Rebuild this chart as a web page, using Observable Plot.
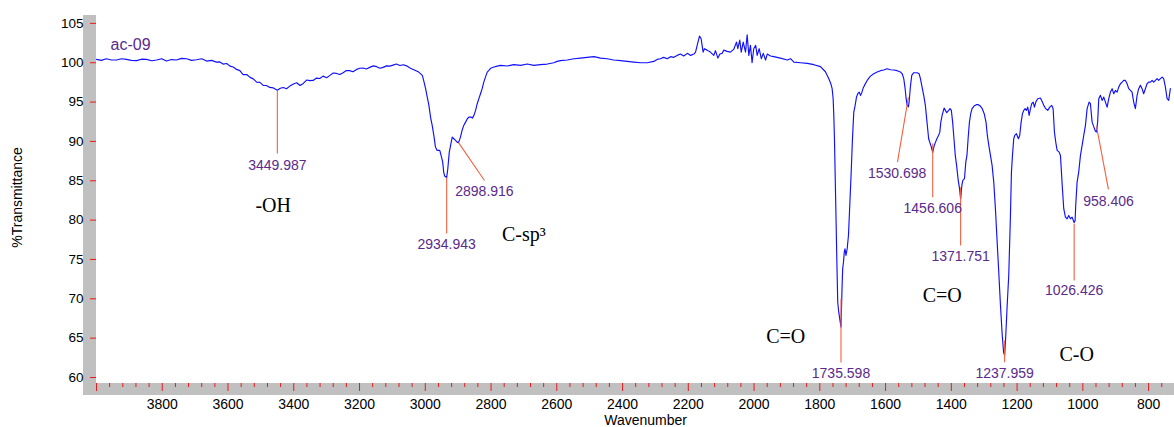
<!DOCTYPE html>
<html>
<head>
<meta charset="utf-8">
<script src="https://cdn.jsdelivr.net/npm/d3@7"></script>
<script src="https://cdn.jsdelivr.net/npm/@observablehq/plot@0.6"></script>
<style>
  html, body { margin: 0; padding: 0; background: #fff; }
</style>
</head>
<body>
<div id="chart"></div>
<script>
// FTIR spectrum of sample ac-09: wavenumber (cm-1) and %transmittance
const wavenumber = [
  4000, 3985, 3970, 3955, 3939, 3924, 3909, 3894, 3878, 3863, 3848, 3832, 3817, 3802, 3787, 3772,
  3757, 3741, 3726, 3711, 3696, 3680, 3665, 3650, 3635, 3625, 3615, 3604, 3594, 3584, 3574, 3564,
  3554, 3543, 3533, 3523, 3513, 3503, 3493, 3483, 3473, 3462, 3449.987, 3441, 3432, 3422, 3412, 3401,
  3391, 3381, 3371, 3361, 3351, 3341, 3331, 3321, 3311, 3300, 3290, 3280, 3270, 3260, 3250, 3240,
  3230, 3220, 3209, 3199, 3189, 3179, 3169, 3158, 3148, 3138, 3128, 3118, 3108, 3098, 3088, 3077,
  3067, 3057, 3045, 3030, 3020, 3009, 3005, 2999, 2994, 2989, 2984, 2979, 2974, 2969, 2964, 2956,
  2952, 2947, 2944, 2941, 2934.943, 2931.5, 2927, 2923, 2918, 2913, 2908, 2903, 2898.916, 2893, 2888, 2883,
  2877.5, 2872, 2867.5, 2860, 2857, 2852, 2847, 2842, 2837, 2832, 2827, 2822, 2817, 2811.5, 2806.5, 2801,
  2791, 2781, 2771, 2751, 2731, 2710, 2690, 2670, 2650, 2629, 2609, 2599, 2589, 2568, 2548, 2528,
  2508, 2487, 2467, 2447, 2427, 2406, 2386, 2366, 2345, 2325, 2305, 2295, 2285, 2275, 2264, 2254,
  2244, 2234, 2224, 2214, 2203, 2193, 2183, 2178, 2173, 2166, 2161, 2158, 2155, 2151, 2143, 2133,
  2122.5, 2117.5, 2110, 2104, 2097, 2092, 2082, 2072, 2062, 2053.5, 2049.5, 2043.5, 2039, 2033, 2026, 2021,
  2016, 2011, 2006, 2001, 1995, 1990.5, 1984.5, 1978, 1972, 1965, 1960, 1950, 1940, 1930, 1920, 1899,
  1889, 1879, 1859, 1838, 1818, 1798, 1783, 1773, 1767, 1762.5, 1759.5, 1757.5, 1755.5, 1753.5, 1751.5, 1749.5,
  1747.5, 1745.5, 1742.4, 1739.4, 1735.598, 1732.5, 1730.5, 1728, 1725.6, 1723.5, 1720.5, 1716.8, 1712.9, 1708.9, 1704.6, 1700.7,
  1696.7, 1692.5, 1688.5, 1684.6, 1680.3, 1676.4, 1672.4, 1668.2, 1664.2, 1656, 1646, 1636, 1625.6, 1615.6, 1605.5, 1595.2,
  1585.2, 1575.1, 1564.8, 1554.7, 1549.6, 1544.7, 1540.5, 1537.5, 1534.4, 1530.698, 1528.4, 1524.4, 1520.4, 1514.4, 1504, 1498,
  1494, 1489, 1484, 1479, 1474, 1469, 1461, 1456.606, 1452, 1448, 1444, 1439, 1435, 1432, 1428, 1422,
  1418, 1414, 1408, 1404, 1400, 1396, 1392, 1388, 1384, 1379, 1375, 1371.751, 1368, 1365, 1360, 1356,
  1352.5, 1349, 1345, 1341, 1337, 1331, 1324, 1318, 1312, 1306, 1300, 1294.5, 1290.5, 1286, 1281, 1276,
  1271, 1266, 1260.6, 1255.8, 1250.6, 1245.4, 1241, 1237.959, 1235.4, 1230.2, 1225.4, 1220.2, 1217.2, 1214.1, 1210.2, 1207.1,
  1202, 1196, 1192, 1187.7, 1183.7, 1179.7, 1175.5, 1171.5, 1167.6, 1163.3, 1159.3, 1155.4, 1151.1, 1147.2, 1143.2, 1137.2,
  1129.1, 1123, 1118.9, 1112.9, 1106.8, 1100.7, 1094.6, 1090.4, 1086.4, 1082.4, 1078.2, 1072.1, 1068.1, 1065.1, 1062.1, 1058.1,
  1053, 1047.8, 1043, 1037.8, 1032.7, 1026.426, 1023.5, 1021.7, 1017.5, 1012.6, 1007.3, 1002.2, 997.3, 992.1, 987, 981,
  977, 971.8, 964.5, 961.5, 958.406, 955, 951.6, 946.5, 941.3, 936.4, 931.3, 926.1, 921.2, 916.1, 910.9, 906,
  900.9, 895.7, 890.9, 885.7, 880.5, 875.7, 870.5, 865.4, 860.5, 855.3, 850.2, 845.4, 840.2, 835, 830.2, 825,
  819.8, 815, 809.8, 804.7, 799.6, 794.4, 789.3, 784.4, 779.3, 774.1, 769.3, 764.1, 758.9, 754.1, 748.9, 743.8,
  738.9, 733.8
];
const transmittance = [
  100.42, 100.3, 100.5, 100.35, 100.34, 100.5, 100.42, 100.3, 100.26, 100.45, 100.42, 100.25, 100.34, 100.5, 100.21, 100.4,
  100.34, 100.55, 100.5, 100.3, 100.38, 100.5, 100.21, 100.3, 100.08, 100.1, 99.83, 99.9, 99.57, 99.45, 99.15, 99.0,
  98.48, 98.5, 98.14, 97.95, 97.54, 97.5, 97.12, 97.1, 96.86, 96.8, 96.5, 96.75, 96.86, 96.7, 97.03, 97.3,
  97.46, 97.1, 97.37, 97.8, 97.72, 97.75, 98.05, 98.0, 98.3, 98.1, 98.39, 98.7, 98.64, 98.5, 98.73, 99.0,
  98.99, 98.85, 99.15, 99.3, 99.32, 99.2, 99.41, 99.6, 99.5, 99.3, 99.41, 99.6, 99.57, 99.7, 99.83, 99.65,
  99.75, 99.6, 99.3, 99.0, 98.81, 98.39, 97.75, 96.7, 95.63, 94.58, 93.09, 92.03, 90.76, 89.28, 88.86, 88.86,
  88.22, 87.37, 86.1, 85.6, 85.4, 86.53, 88.64, 89.49, 90.55, 90.34, 90.13, 89.91, 89.85, 90.55, 91.4, 92.03,
  92.45, 92.88, 93.09, 93.09, 92.96, 93.31, 93.94, 94.79, 95.43, 96.06, 96.7, 97.54, 98.17, 98.81, 99.03, 99.3,
  99.45, 99.57, 99.66, 99.58, 99.75, 99.66, 99.83, 99.66, 99.75, 99.83, 100.0, 100.17, 100.26, 100.34, 100.51, 100.59,
  100.68, 100.77, 100.59, 100.51, 100.34, 100.26, 100.17, 100.08, 100.0, 100.0, 100.17, 100.42, 100.51, 100.68, 100.51, 100.77,
  100.68, 100.93, 101.1, 100.85, 101.19, 100.93, 101.1, 101.35, 102.2, 103.39, 103.05, 102.2, 101.35, 101.78, 101.6, 101.35,
  100.93, 101.53, 100.59, 101.1, 101.19, 101.6, 101.44, 101.35, 101.69, 102.62, 101.78, 102.88, 101.35, 102.62, 101.35, 103.56,
  100.93, 102.2, 100.0, 101.78, 102.2, 100.93, 101.78, 100.51, 101.19, 100.34, 101.1, 100.85, 100.77, 100.68, 100.59, 100.34,
  100.51, 100.08, 100.0, 99.92, 99.75, 99.5, 98.85, 98.0, 97.4, 96.7, 95.43, 93.31, 90.34, 86.1, 81.87, 77.63,
  73.39, 69.57, 68.3, 67.46, 66.4, 71.28, 73.82, 74.66, 75.93, 76.36, 75.51, 76.36, 78.05, 81.87, 86.1, 90.34,
  93.73, 94.58, 95.63, 96.06, 96.27, 95.85, 96.19, 96.78, 97.12, 97.75, 98.3, 98.6, 98.81, 98.99, 99.07, 99.24,
  99.11, 99.07, 98.99, 98.81, 98.6, 97.97, 96.7, 95.43, 94.6, 94.4, 95.0, 97.0, 98.39, 98.73, 98.73, 98.6,
  97.97, 96.9, 95.85, 94.58, 92.45, 90.34, 89.3, 88.6, 89.49, 89.91, 90.34, 90.76, 91.18, 92.45, 93.31, 94.23,
  93.94, 93.65, 93.94, 94.16, 93.94, 92.45, 90.34, 88.22, 86.95, 85.04, 84.0, 82.7, 84.41, 85.04, 85.26, 87.37,
  88.22, 90.34, 92.45, 93.52, 94.16, 94.49, 94.67, 94.67, 94.49, 94.16, 93.52, 92.45, 90.76, 89.49, 88.22, 86.95,
  84.83, 81.5, 77.2, 73.4, 69.2, 65.5, 63.2, 62.8, 64.49, 69.15, 72.97, 80.6, 86.1, 88.22, 90.34, 90.76,
  90.98, 90.34, 90.76, 92.45, 93.52, 93.94, 94.16, 93.94, 94.36, 93.31, 94.16, 94.79, 95.0, 94.36, 95.0, 95.43,
  95.51, 95.0, 94.58, 94.16, 93.94, 94.36, 94.58, 94.16, 91.18, 89.91, 88.86, 88.64, 88.22, 86.1, 83.99, 81.45,
  80.38, 80.17, 80.6, 80.17, 80.38, 79.7, 79.96, 81.87, 84.83, 86.1, 88.22, 89.49, 90.76, 92.03, 94.16, 95.0,
  94.79, 92.45, 91.6, 91.3, 91.2, 92.45, 95.43, 95.85, 95.21, 95.63, 95.0, 94.36, 95.43, 96.27, 96.7, 96.06,
  96.48, 96.27, 96.9, 97.33, 97.54, 97.75, 97.75, 97.33, 96.7, 96.48, 96.27, 95.0, 94.16, 95.85, 96.7, 97.12,
  96.7, 96.06, 96.7, 97.33, 97.54, 97.54, 97.75, 97.54, 97.75, 97.97, 97.75, 97.97, 98.17, 97.97, 96.9, 95.43,
  95.21, 96.7
];

// Picked peaks: leader line from the band down (or out) to its label
const peakWavenumber = [3449.987, 2934.943, 2898.916, 1735.598, 1530.698, 1456.606, 1371.751, 1237.959, 1026.426, 958.406];
const peakTop        = [96.48, 85.4, 89.85, 70.0, 95.6, 89.75, 84.19, 64.71, 79.58, 91.9];
const leaderEndW     = [3449.987, 2934.943, 2820, 1735.598, 1563.8, 1456.606, 1371.751, 1237.959, 1026.426, 922.2];
const leaderEndT     = [88.48, 78.3, 85.04, 61.91, 87.37, 82.92, 76.78, 61.95, 72.33, 83.9];
const labelW         = [3449.987, 2934.943, 2820, 1735.598, 1564.8, 1456.606, 1371.751, 1237.959, 1026.426, 922.2];
const labelT         = [86.95, 76.9, 83.68, 60.55, 85.93, 81.52, 75.38, 60.55, 71.06, 82.41];

// Functional-group assignments
const bandName = ["-OH", "C-sp\u00B3", "C=O", "C=O", "C-O"];
const bandW    = [3462.5, 2700.4, 1903.6, 1427.9, 1018.8];
const bandT    = [81.87, 78.18, 65.21, 70.39, 62.97];

const yTicks = [65, 70, 75, 80, 85, 90, 95, 100, 105];
const yLabelTicks = [60, 65, 70, 75, 80, 85, 90, 95, 100, 105];
const xMajor = d3.range(800, 4001, 200);
const xLabels = d3.range(800, 3801, 200);
const xMinor = d3.range(760, 4001, 40).filter(d => d % 200 !== 0);

const spectrum = wavenumber.map((w, i) => ({w, t: transmittance[i]}));
const peaks = peakWavenumber.map((p, i) => ({
  p, top: peakTop[i], ew: leaderEndW[i], et: leaderEndT[i], lw: labelW[i], lt: labelT[i],
  label: p.toFixed(3)
}));
const bands = bandName.map((name, i) => ({name, w: bandW[i], t: bandT[i]}));

const purple = "#5a2a8c";
const tickRed = "#f01818";
const leaderRed = "#f5603f";
const plain = d => String(d);

const chart = Plot.plot({
  width: 1174,
  height: 427,
  marginLeft: 96,
  marginRight: 4,
  marginTop: 15,
  marginBottom: 44,
  x: {domain: [4000, 733.4]},
  y: {domain: [59.24, 106]},
  style: {fontFamily: "'Liberation Sans', Arial, sans-serif", fontSize: "14px", color: "black", background: "white", overflow: "visible"},
  marks: [
    // y axis: red ticks sitting on the grey band, labels to their left
    Plot.axisY({ticks: yTicks, anchor: "left", tickSize: 6, insetRight: 7, stroke: tickRed, fill: "none", label: null}),
    Plot.axisY({ticks: [60], anchor: "left", tickSize: 6, insetRight: 25, stroke: tickRed, fill: "none", label: null}),
    Plot.axisY({ticks: yLabelTicks, anchor: "left", tickSize: 0, tickPadding: 13, tickFormat: plain, fill: "black", fontSize: 13.5, label: null}),
    // x axis: major and minor red ticks on the grey band, labels below
    Plot.axisX({ticks: xMajor, anchor: "bottom", tickSize: 8, insetTop: 3, stroke: tickRed, fill: "none", label: null}),
    Plot.axisX({ticks: xMinor, anchor: "bottom", tickSize: 4, insetTop: 6, stroke: tickRed, fill: "none", label: null}),
    Plot.axisX({ticks: xLabels, anchor: "bottom", tickSize: 0, tickPadding: 16, tickFormat: plain, fill: "black", fontSize: 14, label: null}),
    // axis titles
    Plot.text(["Wavenumber"], {x: 2330, y: 54.5, text: d => d, fontSize: 14, fill: "black", lineAnchor: "middle"}),
    Plot.text(["%Transmittance"], {x: 4240, y: 82.88, text: d => d, fontSize: 14, fill: "black", rotate: -90, lineAnchor: "middle"}),
    // sample name
    Plot.text(["ac-09"], {x: 3957.4, y: 102.33, text: d => d, fontSize: 16, fill: purple, textAnchor: "start", lineAnchor: "middle"}),
    // spectrum
    Plot.line(spectrum, {x: "w", y: "t", stroke: "#1010ff", strokeWidth: 1.15}),
    // peak picks
    Plot.link(peaks, {x1: "p", y1: "top", x2: "ew", y2: "et", stroke: leaderRed, strokeWidth: 1.1}),
    Plot.text(peaks, {x: "lw", y: "lt", text: "label", fontSize: 14, fill: purple, lineAnchor: "middle"}),
    // band assignments
    Plot.text(bands, {x: "w", y: "t", text: "name", fontSize: 20, fontFamily: "'Liberation Serif', 'Times New Roman', serif", fill: "black", lineAnchor: "middle"})
  ]
});

// Grey L-shaped axis band along the left and bottom edges of the frame
const [xl] = chart.scale("x").range;
const [yb, yt] = chart.scale("y").range;
const band = 13;
const svg = d3.select(chart);
const firstG = chart.querySelector("g");
svg.insert("rect", () => firstG)
  .attr("x", xl - band).attr("y", yt)
  .attr("width", band).attr("height", yb + band - 1 - yt)
  .attr("fill", "#c0c0c0");
svg.insert("rect", () => firstG)
  .attr("x", xl - band).attr("y", yb)
  .attr("width", 1174 - (xl - band)).attr("height", band - 1)
  .attr("fill", "#c0c0c0");

document.getElementById("chart").appendChild(chart);
</script>
</body>
</html>
